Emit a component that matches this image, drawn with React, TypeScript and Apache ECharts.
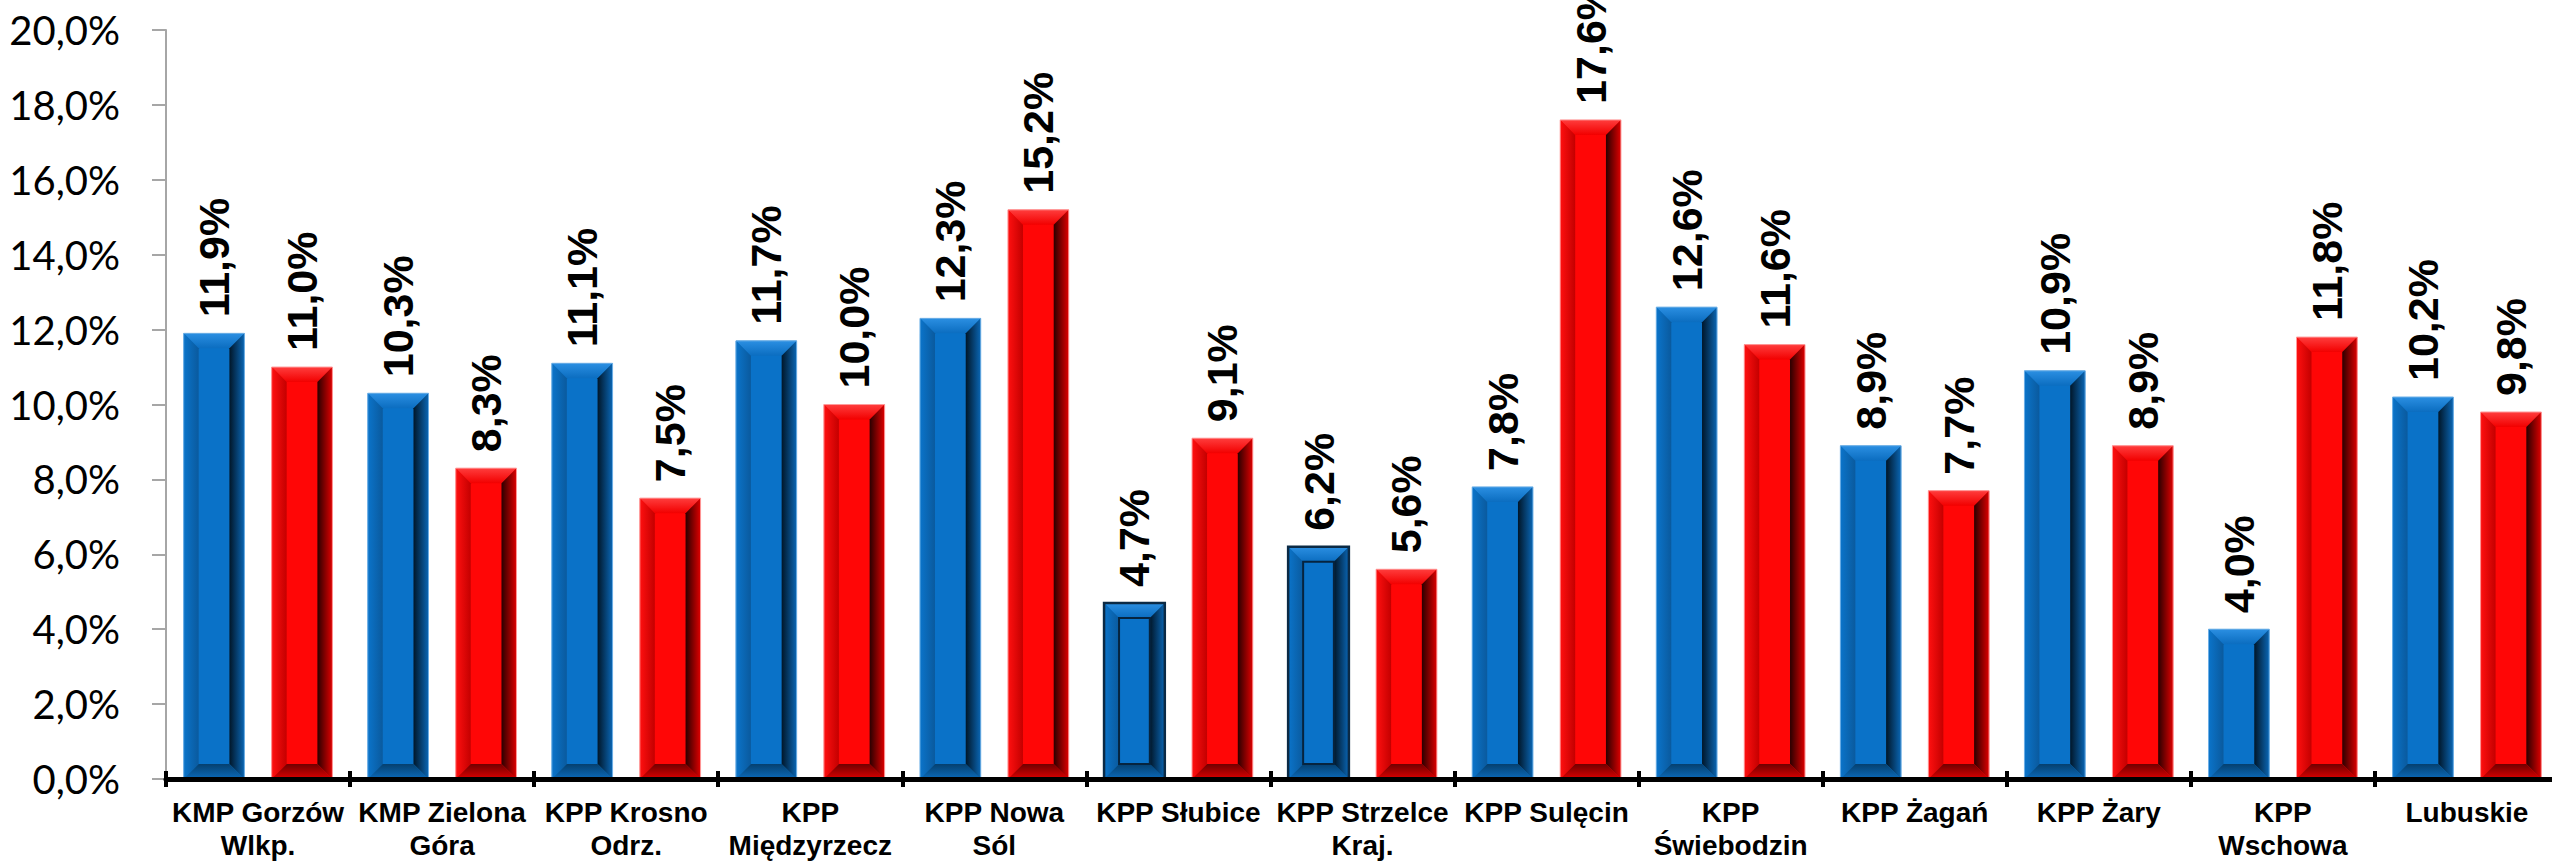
import React, { useEffect, useRef } from "react";
import * as echarts from "echarts";

const categories = [
  "KMP Gorzów\nWlkp.",
  "KMP Zielona\nGóra",
  "KPP Krosno\nOdrz.",
  "KPP\nMiędzyrzecz",
  "KPP Nowa\nSól",
  "KPP Słubice",
  "KPP Strzelce\nKraj.",
  "KPP Sulęcin",
  "KPP\nŚwiebodzin",
  "KPP Żagań",
  "KPP Żary",
  "KPP\nWschowa",
  "Lubuskie",
];

const blueValues = [11.9, 10.3, 11.1, 11.7, 12.3, 4.7, 6.2, 7.8, 12.6, 8.9, 10.9, 4.0, 10.2];
const redValues = [11.0, 8.3, 7.5, 10.0, 15.2, 9.1, 5.6, 17.6, 11.6, 7.7, 8.9, 11.8, 9.8];

const yTicks = { min: 0, max: 20, interval: 2 };

const OUTLINED_BLUE = new Set([5, 6]);

const fmt = (v: number) => v.toFixed(1).replace(".", ",") + "%";

type Palette = {
  main: string;
  top: [string, string];
  left: [string, string];
  right: [string, string];
  bottom: [string, string];
  edge: string;
};

const BLUE: Palette = {
  main: "#0a72c8",
  top: ["#2b8fe2", "#0b6dc0"],
  left: ["#0b74ca", "#0a5a9e"],
  right: ["#011628", "#0a66b4"],
  bottom: ["#05406f", "#0b6aba"],
  edge: "#6fb0e6",
};

const RED: Palette = {
  main: "#ff0606",
  top: ["#ff3d3d", "#f20000"],
  left: ["#ff1010", "#c40000"],
  right: ["#2a0000", "#de0000"],
  bottom: ["#700000", "#dc0000"],
  edge: "#ff9a9a",
};

function makeRenderItem(pal: Palette, side: number, outlined: Set<number>) {
  return (params: any, api: any) => {
    const i = api.value(0);
    const v = api.value(1);
    const base = api.coord([i, 0]);
    const top = api.coord([i, v]);
    const band = api.size([1, 0])[0];
    const w = band * 0.33;
    const cx = base[0] + side * band * 0.239;
    const x0 = cx - w / 2;
    const x1 = cx + w / 2;
    const y0 = top[1];
    const y1 = base[1];
    const h = y1 - y0;
    const b = Math.min(15, h / 2);
    const G = echarts.graphic.LinearGradient;
    const isOut = outlined.has(i);
    const children: any[] = [
      { type: "rect", shape: { x: x0, y: y0, width: w, height: h }, style: { fill: pal.main } },
      {
        type: "polygon",
        shape: { points: [[x0, y0], [x1, y0], [x1 - b, y0 + b], [x0 + b, y0 + b]] },
        style: { fill: new G(0, 0, 0, 1, [{ offset: 0, color: pal.top[0] }, { offset: 1, color: pal.top[1] }]) },
      },
      {
        type: "polygon",
        shape: { points: [[x0, y0], [x0 + b, y0 + b], [x0 + b, y1 - b], [x0, y1]] },
        style: { fill: new G(0, 0, 1, 0, [{ offset: 0, color: pal.left[0] }, { offset: 1, color: pal.left[1] }]) },
      },
      {
        type: "polygon",
        shape: { points: [[x1, y0], [x1, y1], [x1 - b, y1 - b], [x1 - b, y0 + b]] },
        style: { fill: new G(0, 0, 1, 0, [{ offset: 0, color: pal.right[0] }, { offset: 1, color: pal.right[1] }]) },
      },
      {
        type: "polygon",
        shape: { points: [[x0, y1], [x0 + b, y1 - b], [x1 - b, y1 - b], [x1, y1]] },
        style: { fill: new G(0, 0, 0, 1, [{ offset: 0, color: pal.bottom[0] }, { offset: 1, color: pal.bottom[1] }]) },
      },
      {
        type: "rect",
        shape: { x: x0, y: y0, width: w, height: h },
        style: { fill: "none", stroke: isOut ? "#0b2a45" : pal.edge, lineWidth: isOut ? 2.5 : 1 },
      },
    ];
    if (isOut) {
      children.push({
        type: "rect",
        shape: { x: x0 + b, y: y0 + b, width: w - 2 * b, height: h - 2 * b },
        style: { fill: "none", stroke: "#06243f", lineWidth: 2 },
      });
    }
    children.push({
      type: "text",
      x: cx,
      y: y0 - 16,
      rotation: Math.PI / 2,
      style: {
        text: fmt(v),
        fill: "#000",
        font: "bold 43px 'Liberation Sans', Arial, sans-serif",
        align: "left",
        verticalAlign: "middle",
      },
    });
    return { type: "group", children };
  };
}

export default function App() {
  const ref = useRef<HTMLDivElement>(null);
  useEffect(() => {
    if (!ref.current) return;
    const chart = echarts.init(ref.current, undefined, { renderer: "svg" });
    const catAxisBase = {
      type: "category" as const,
      data: categories,
      position: "bottom" as const,
      z: 5,
    };
    chart.setOption({
      animation: false,
      backgroundColor: "#ffffff",
      grid: { left: 166, right: 1, top: 30, bottom: 85, containLabel: false },
      xAxis: [
        {
          ...catAxisBase,
          axisLine: { show: true, lineStyle: { color: "#000", width: 5 } },
          axisTick: { show: true, inside: false, length: 8, lineStyle: { color: "#000", width: 4 } },
          axisLabel: {
            show: true,
            interval: 0,
            margin: 17,
            color: "#000",
            fontFamily: "'Liberation Sans', Arial, sans-serif",
            fontWeight: "bold",
            fontSize: 28,
            lineHeight: 33,
            verticalAlign: "top",
          },
          splitLine: { show: false },
        },
        {
          ...catAxisBase,
          axisLine: { show: false },
          axisTick: { show: true, inside: true, length: 8, lineStyle: { color: "#000", width: 4 } },
          axisLabel: { show: false },
          splitLine: { show: false },
        },
      ],
      yAxis: {
        type: "value",
        min: yTicks.min,
        max: yTicks.max,
        interval: yTicks.interval,
        z: 4,
        axisLine: { show: true, lineStyle: { color: "#a6a6a6", width: 2 } },
        axisTick: { show: true, inside: false, length: 14, lineStyle: { color: "#a6a6a6", width: 2 } },
        axisLabel: {
          margin: 46,
          color: "#000",
          fontFamily: "Lato, 'Open Sans', sans-serif",
          fontSize: 40,
          formatter: (v: number) => fmt(v),
        },
        splitLine: { show: false },
      },
      series: [
        {
          type: "custom",
          name: "blue",
          xAxisIndex: 0,
          z: 2,
          renderItem: makeRenderItem(BLUE, -1, OUTLINED_BLUE),
          data: blueValues.map((v, i) => [i, v]),
          encode: { x: 0, y: 1 },
          clip: false,
        },
        {
          type: "custom",
          name: "red",
          xAxisIndex: 0,
          z: 2,
          renderItem: makeRenderItem(RED, 1, new Set<number>()),
          data: redValues.map((v, i) => [i, v]),
          encode: { x: 0, y: 1 },
          clip: false,
        },
      ],
    });
    return () => chart.dispose();
  }, []);
  return (
    <div style={{ position: "fixed", left: 0, top: 0, width: 2552, height: 864, overflow: "hidden", background: "#fff" }}>
      <div ref={ref} style={{ width: 2560, height: 864 }} />
    </div>
  );
}
